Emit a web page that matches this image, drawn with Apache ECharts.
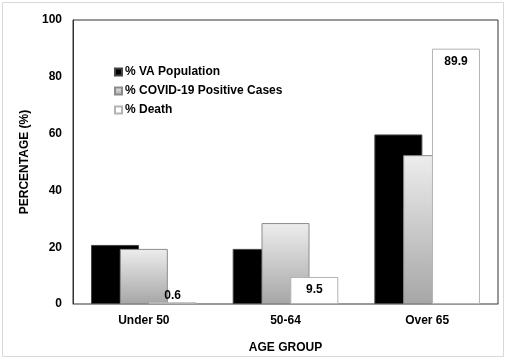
<!DOCTYPE html>
<html><head><meta charset="utf-8">
<script src="https://cdn.jsdelivr.net/npm/echarts@6/dist/echarts.min.js"></script>
<style>html,body{margin:0;padding:0;background:#fff}#c{width:506px;height:359px}</style>
</head><body><div id="c"></div>
<script>
var categories = ['Under 50', '50-64', 'Over 65'];
var vaPopulation = [20.8, 19.4, 59.7];
var covidPositive = [19.4, 28.5, 52.4];
var deaths = [0.6, 9.5, 89.9];
var yTicks = [0, 20, 40, 60, 80, 100];
var seriesNames = ['% VA Population', '% COVID-19 Positive Cases', '% Death'];

var font = 'Liberation Sans, Arial, sans-serif';
var chart = echarts.init(document.getElementById('c'));
chart.setOption({
  animation: false,
  backgroundColor: '#fff',
  graphic: [{
    type: 'rect', shape: {x: 2.5, y: 2.5, width: 501, height: 354},
    style: {fill: 'none', stroke: '#d9d9d9', lineWidth: 1}, silent: true, z: -1
  }],
  grid: {left: 73, right: 8, top: 20, bottom: 51, show: true, borderColor: '#333', borderWidth: 1},
  legend: {
    orient: 'vertical', left: 109, top: 60, itemWidth: 7, itemHeight: 7, itemGap: 5,
    icon: 'rect',
    textStyle: {fontFamily: font, fontWeight: 'bold', fontSize: 12, color: '#000', lineHeight: 14, padding: [0, 0, 0, -2]},
    data: seriesNames
  },
  xAxis: {
    type: 'category', data: categories,
    name: 'AGE GROUP', nameLocation: 'middle', nameGap: 38,
    nameTextStyle: {fontFamily: font, fontWeight: 'bold', fontSize: 12, color: '#000'},
    axisTick: {show: false},
    axisLine: {lineStyle: {color: '#999'}},
    axisLabel: {fontFamily: font, fontWeight: 'bold', fontSize: 12, color: '#000', margin: 11}
  },
  yAxis: {
    type: 'value', min: yTicks[0], max: yTicks[yTicks.length - 1], interval: 20,
    name: 'PERCENTAGE (%)', nameLocation: 'middle', nameGap: 38, nameRotate: 90,
    nameTextStyle: {fontFamily: font, fontWeight: 'bold', fontSize: 12, color: '#000'},
    splitLine: {show: false},
    axisTick: {show: false},
    axisLine: {show: true, lineStyle: {color: '#333'}},
    axisLabel: {fontFamily: font, fontWeight: 'bold', fontSize: 12, color: '#000', margin: 11}
  },
  series: [
    {
      name: seriesNames[0], type: 'bar', data: vaPopulation, barWidth: 48, barGap: '-40%',
      itemStyle: {color: '#000', borderColor: '#444', borderWidth: 1}
    },
    {
      name: seriesNames[1], type: 'bar', data: covidPositive, barWidth: 48, barGap: '-40%',
      itemStyle: {
        color: new echarts.graphic.LinearGradient(0, 0, 0, 1, [
          {offset: 0, color: '#ededed'}, {offset: 1, color: '#a6a6a6'}
        ]),
        borderColor: '#8c8c8c', borderWidth: 1
      }
    },
    {
      name: seriesNames[2], type: 'bar', barWidth: 48, barGap: '-40%',
      data: deaths.map(function (v) {
        return {value: v, label: {position: v < 5 ? 'top' : 'insideTop', distance: v < 5 ? 1 : 7}};
      }),
      itemStyle: {color: '#fff', borderColor: '#b3b3b3', borderWidth: 1},
      label: {show: true, fontFamily: font, fontWeight: 'bold', fontSize: 12, color: '#000'}
    }
  ]
});
</script></body></html>
